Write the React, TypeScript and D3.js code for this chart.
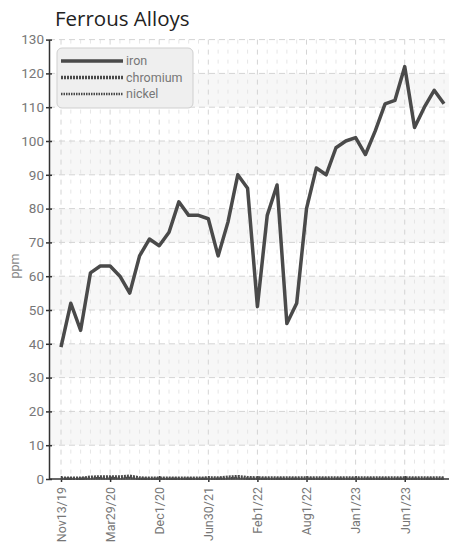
import * as d3 from 'd3';
import React, { useEffect, useRef } from 'react';

// values, one point per sample (40 samples)
const ironValues = [
  39, 52, 44, 61, 63, 63, 60, 55, 66, 71, 69, 73, 82, 78, 78, 77, 66, 76, 90, 86,
  51, 78, 87, 46, 52, 80, 92, 90, 98, 100, 101, 96, 103, 111, 112, 122, 104, 110, 115, 111
];
const chromiumValues = [
  0.2, 0.2, 0.2, 0.5, 0.6, 0.6, 0.6, 0.8, 0.3, 0.2, 0.2, 0.2, 0.2, 0.2, 0.2, 0.3, 0.3, 0.5, 0.7, 0.4,
  0.3, 0.3, 0.3, 0.3, 0.3, 0.3, 0.3, 0.3, 0.3, 0.3, 0.3, 0.3, 0.3, 0.3, 0.3, 0.3, 0.3, 0.3, 0.3, 0.3
];
const nickelValues = [
  0.1, 0.1, 0.1, 0.2, 0.2, 0.2, 0.2, 0.3, 0.1, 0.1, 0.1, 0.1, 0.1, 0.1, 0.1, 0.1, 0.1, 0.2, 0.3, 0.1,
  0.1, 0.1, 0.1, 0.1, 0.1, 0.1, 0.1, 0.1, 0.1, 0.1, 0.1, 0.1, 0.1, 0.1, 0.1, 0.1, 0.1, 0.1, 0.1, 0.1
];
// labels shown every 5th sample
const tickLabels = ['Nov13/19', 'Mar29/20', 'Dec1/20', 'Jun30/21', 'Feb1/22', 'Aug1/22', 'Jan1/23', 'Jun1/23'];
const seriesNames = ['iron', 'chromium', 'nickel'];

const W = 449;
const H = 543;
const FONT = 'Roboto, sans-serif';

export default function App() {
  const ref = useRef<SVGSVGElement>(null);

  useEffect(() => {
    const svg = d3.select(ref.current);
    svg.selectAll('*').remove();

    const x = d3.scaleLinear().domain([0, ironValues.length - 1]).range([61, 444]);
    const y = d3.scaleLinear().domain([0, 130]).range([479, 39.6]);
    const left = 49;

    // alternating bands
    const bands = d3.range(10, 130, 20);
    svg
      .append('g')
      .selectAll('rect')
      .data(bands)
      .join('rect')
      .attr('x', left)
      .attr('width', W - left)
      .attr('y', (d) => y(d + 10))
      .attr('height', (d) => y(d) - y(d + 10))
      .attr('fill', '#f7f7f7');

    // minor vertical grid, every sample
    svg
      .append('g')
      .selectAll('line')
      .data(d3.range(ironValues.length).filter((i) => i % 5 !== 0))
      .join('line')
      .attr('x1', (d) => x(d))
      .attr('x2', (d) => x(d))
      .attr('y1', y(130))
      .attr('y2', y(0))
      .attr('stroke', '#e6e6e6')
      .attr('stroke-dasharray', '4,6');

    // major vertical grid
    svg
      .append('g')
      .selectAll('line')
      .data(tickLabels.map((_, i) => i * 5))
      .join('line')
      .attr('x1', (d) => x(d))
      .attr('x2', (d) => x(d))
      .attr('y1', y(130))
      .attr('y2', y(0))
      .attr('stroke', '#d4d4d4')
      .attr('stroke-dasharray', '5,5');

    // horizontal grid
    svg
      .append('g')
      .selectAll('line')
      .data(d3.range(10, 140, 10))
      .join('line')
      .attr('x1', left)
      .attr('x2', W)
      .attr('y1', (d) => y(d))
      .attr('y2', (d) => y(d))
      .attr('stroke', '#d4d4d4')
      .attr('stroke-dasharray', '6,4');

    // y axis
    const yAxis = d3.axisLeft(y).tickValues(d3.range(0, 140, 10)).tickSize(0).tickPadding(5);
    const yg = svg.append('g').attr('transform', `translate(${left},0)`).call(yAxis);
    yg.select('.domain').attr('stroke', '#333').attr('stroke-width', 1.5);
    yg.selectAll('text').attr('font-family', FONT).attr('font-size', 13.5).attr('fill', '#777');
    yg.selectAll('.tick')
      .append('line')
      .attr('x1', -3)
      .attr('x2', 3)
      .attr('stroke', '#333')
      .attr('stroke-width', 1.5);

    // x axis
    const xAxis = d3
      .axisBottom(x)
      .tickValues(tickLabels.map((_, i) => i * 5))
      .tickFormat((d) => tickLabels[(d as number) / 5])
      .tickSize(0);
    const xg = svg.append('g').attr('transform', `translate(0,${y(0)})`).call(xAxis);
    xg.select('.domain').attr('d', `M${left},0H${W}`).attr('stroke', '#333').attr('stroke-width', 1.5);
    xg.selectAll('.tick')
      .append('line')
      .attr('y1', -3)
      .attr('y2', 3)
      .attr('stroke', '#333')
      .attr('stroke-width', 1.5);
    xg.selectAll('text')
      .attr('font-family', FONT)
      .attr('font-size', 12.5)
      .attr('fill', '#777')
      .attr('text-anchor', 'end')
      .attr('dy', '0.35em')
      .attr('y', 0)
      .attr('transform', 'translate(0,8) rotate(-90)');

    // series
    const line = d3
      .line<number>()
      .x((_, i) => x(i))
      .y((d) => y(d));
    const styles = [
      { data: ironValues, width: 3.5, dash: null },
      { data: chromiumValues, width: 3.5, dash: '2,1' },
      { data: nickelValues, width: 2.5, dash: '1.5,1' }
    ];
    styles
      .slice()
      .reverse()
      .forEach((s) => {
        svg
          .append('path')
          .datum(s.data)
          .attr('d', line)
          .attr('fill', 'none')
          .attr('stroke', '#4a4a4a')
          .attr('stroke-width', s.width)
          .attr('stroke-linejoin', 'round')
          .attr('stroke-dasharray', s.dash);
      });

    // legend
    const lg = svg.append('g').attr('transform', 'translate(57,48)');
    lg.append('rect')
      .attr('width', 136)
      .attr('height', 60)
      .attr('rx', 5)
      .attr('fill', '#efefef')
      .attr('stroke', '#cfcfcf');
    seriesNames.forEach((name, i) => {
      const yy = 13 + i * 16.5;
      lg.append('line')
        .attr('x1', 4)
        .attr('x2', 66)
        .attr('y1', yy)
        .attr('y2', yy)
        .attr('stroke', '#4a4a4a')
        .attr('stroke-width', styles[i].width)
        .attr('stroke-dasharray', styles[i].dash);
      lg.append('text')
        .attr('x', 69)
        .attr('y', yy)
        .attr('dy', '0.35em')
        .attr('font-family', FONT)
        .attr('font-size', 12.5)
        .attr('fill', '#777')
        .text(name);
    });

    // title + y label
    svg
      .append('text')
      .attr('x', 55)
      .attr('y', 26)
      .attr('font-family', '"Open Sans", sans-serif')
      .attr('font-size', 20.5)
      .attr('fill', '#222')
      .text('Ferrous Alloys');
    svg
      .append('text')
      .attr('transform', `translate(15,${y(63)}) rotate(-90)`)
      .attr('text-anchor', 'middle')
      .attr('dy', '0.35em')
      .attr('font-family', FONT)
      .attr('font-size', 12.5)
      .attr('fill', '#888')
      .text('ppm');
  }, []);

  return (
    <div style={{ position: 'absolute', left: 0, top: 0 }}>
      <svg ref={ref} width={W} height={H} style={{ display: 'block', background: '#fff' }} />
    </div>
  );
}
